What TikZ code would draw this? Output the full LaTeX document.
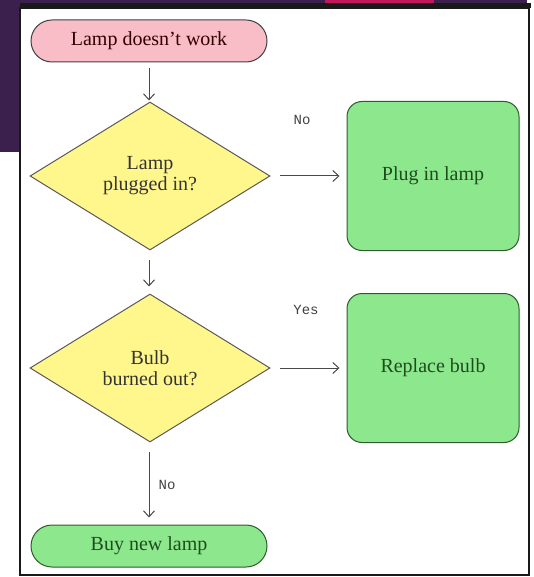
\documentclass[tikz,border=0pt]{standalone}
\usepackage{fontspec}
\setmainfont{Liberation Serif}
\setmonofont{Liberation Mono}
\usetikzlibrary{shapes.geometric, arrows.meta}
\definecolor{slidebg}{HTML}{3B1F4C}
\definecolor{slidebar}{HTML}{C2185B}
\definecolor{startpink}{HTML}{F8BDC6}
\definecolor{endgreen}{HTML}{8DE88D}
\definecolor{askyellow}{HTML}{FFF68C}
\definecolor{greenline}{HTML}{2F5A2F}
\definecolor{greentext}{HTML}{1D4D1D}
\definecolor{arrowgrey}{HTML}{4A4A4A}

\begin{document}
\begin{tikzpicture}[x=1pt, y=-1pt,
  every node/.style={font=\fontsize{20}{21}\selectfont, align=center},
  pill/.style={rectangle, rounded corners=21pt, minimum width=236pt, minimum height=42pt, line width=1pt},
  ask/.style={diamond, draw=black!65, fill=askyellow, line width=1pt, minimum width=240pt, minimum height=148pt, inner sep=0pt, text=black!80},
  fix/.style={rectangle, rounded corners=15pt, draw=greenline, fill=endgreen, line width=1pt, minimum width=172pt, minimum height=149pt, text=greentext},
  link/.style={draw=arrowgrey, line width=1pt, -{Straight Barb[length=6pt,width=11pt]}, shorten <=9pt, shorten >=7pt},
  answer/.style={font=\ttfamily\fontsize{14}{16}\selectfont, text=black!75}]

\useasboundingbox (0,0) rectangle (533,577);

% slide behind the picture
\fill[slidebg] (0,0) rectangle (527,3);
\fill[slidebg] (0,0) rectangle (20,152);
\fill[slidebar] (325,0) rectangle (434,3);
\fill[black!90] (20,3) rectangle (531,8);
\draw[black!90, line width=2pt] (20,8) rectangle (529,575);

\node[pill, draw=black!75, fill=startpink, text=black!80!red] (start) at (149,41) {Lamp doesn't work};

\node[ask] (plugged) at (150,176) {Lamp\\plugged in?};
\node[ask] (bulb) at (150,368) {Bulb\\burned out?};

\node[fix] (plug) at (433,176) {Plug in lamp};
\node[fix] (replace) at (433,368) {Replace bulb};

\node[pill, draw=greenline, fill=endgreen, text=greentext] (buy) at (149,546) {Buy new lamp};

\draw[link, shorten <=6pt, shorten >=1pt] (start) -- (start |- plugged.north);
\draw[link] (start |- plugged.south) -- (start |- bulb.north);
\draw[link] (start |- bulb.south) -- (buy);
\draw[link] (plugged.east) -- (plug.west);
\draw[link] (bulb.east) -- (replace.west);

\node[answer] (noplug) at (302,120) {No};
\node[answer] (yesbulb) at (306,310) {Yes};
\node[answer] (nobulb) at (167,485) {No};

\end{tikzpicture}
\end{document}
